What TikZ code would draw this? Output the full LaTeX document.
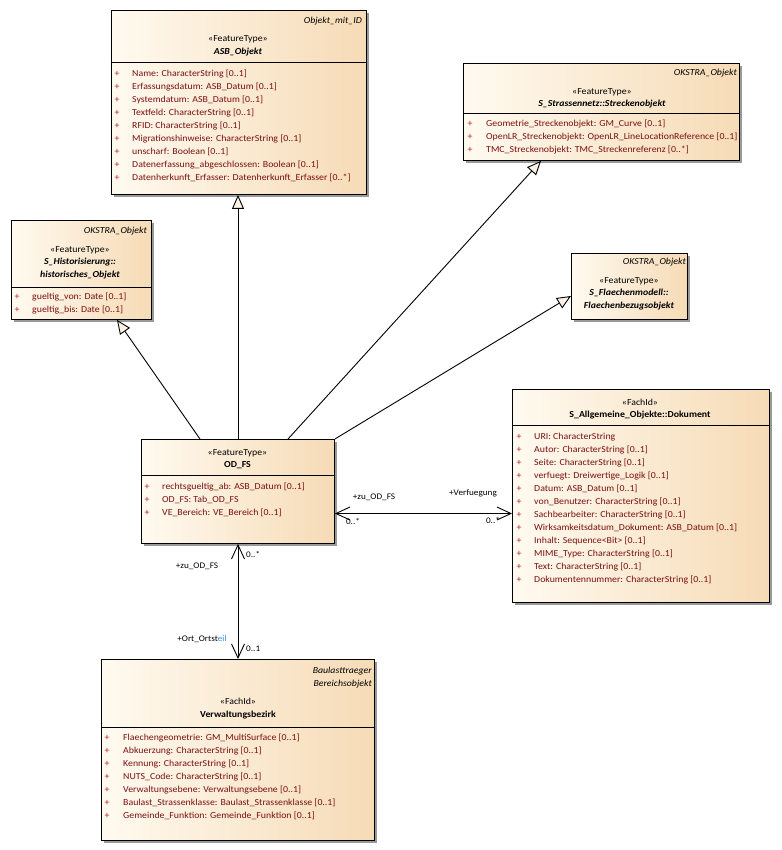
\documentclass[tikz,border=0pt]{standalone}
\usepackage{fontspec}
\setmainfont{Carlito}
\newfontfamily\wide[FakeStretch=1.07]{Carlito}
\usetikzlibrary{arrows.meta,shadows,calc}
\definecolor{creamL}{HTML}{FFFAF0}
\definecolor{creamR}{HTML}{F6DBB6}
\definecolor{attrred}{HTML}{7A1010}
\definecolor{plusred}{HTML}{B01818}
\definecolor{tipfill}{HTML}{FDF3E4}
\definecolor{bluetxt}{HTML}{3A8EE6}
\tikzset{
  umlbox/.style={draw=black, line width=0.9pt, left color=creamL, right color=creamR, anchor=north west, inner sep=0pt,
    drop shadow={shadow xshift=3pt, shadow yshift=-3pt, fill=black!40, opacity=1}},
  divider/.style={line width=0.9pt},
  txt/.style={font=\wide\fontsize{9.2}{10}\selectfont, inner sep=0pt, text=black},
  attr/.style={txt, anchor=mid west, text=attrred},
  plus/.style={txt, anchor=mid, text=plusred},
  ster/.style={txt, anchor=mid},
  cname/.style={txt, anchor=mid, font=\wide\fontsize{9.2}{10}\selectfont\bfseries},
  aname/.style={txt, anchor=mid, font=\wide\fontsize{9.2}{10}\selectfont\bfseries\itshape},
  parent/.style={txt, anchor=mid east, font=\wide\fontsize{9.2}{10}\selectfont\itshape},
  gen/.style={line width=0.9pt, -{Triangle[length=14pt,width=12pt,fill=tipfill]}},
  assoc/.style={line width=0.9pt, {Straight Barb[length=14pt,width=13pt]}-{Straight Barb[length=14pt,width=13pt]}},
  lbl/.style={txt, anchor=mid, font=\wide\fontsize{8.6}{10}\selectfont},
}
\newcommand{\attrlist}[5]{% name, plus x, text x, y0, list
  \foreach \t [count=\i] in {#5} {
    \node[plus] (#1p\i) at (#2, {#4+13*(\i-1)}) {+};
    \node[attr] (#1a\i) at (#3, {#4+13*(\i-1)}) {\t};
  }
}
\begin{document}
\begin{tikzpicture}[x=1pt,y=-1pt]
\useasboundingbox (0,0) rectangle (781,850);

% ---------- ASB_Objekt ----------
\node[umlbox, minimum width=255pt, minimum height=184pt] (asb) at (110.5,10) {};
\draw[divider] (110.5,62.5) -- (365.5,62.5);
\node[parent] (asbP) at (362,21) {Objekt\_mit\_ID};
\node[ster] (asbS) at (238,39.5) {«FeatureType»};
\node[aname] (asbN) at (238,52.3) {ASB\_Objekt};
\attrlist{asb}{117}{132}{74.3}{Name: CharacterString [0..1], Erfassungsdatum: ASB\_Datum [0..1], Systemdatum: ASB\_Datum [0..1], Textfeld: CharacterString [0..1], RFID: CharacterString [0..1], Migrationshinweise: CharacterString [0..1], unscharf: Boolean [0..1], Datenerfassung\_abgeschlossen: Boolean [0..1], Datenherkunft\_Erfasser: Datenherkunft\_Erfasser [0..*]}

% ---------- Streckenobjekt ----------
\node[umlbox, minimum width=276pt, minimum height=97pt] (str) at (463,63) {};
\draw[divider] (463,113) -- (739,113);
\node[parent] (strP) at (737,72.7) {OKSTRA\_Objekt};
\node[ster] (strS) at (602,92.5) {«FeatureType»};
\node[aname] (strN) at (602,104.3) {S\_Strassennetz::Streckenobjekt};
\attrlist{str}{470}{486}{124.5}{Geometrie\_Streckenobjekt: GM\_Curve [0..1], OpenLR\_Streckenobjekt: OpenLR\_LineLocationReference [0..1], TMC\_Streckenobjekt: TMC\_Streckenreferenz [0..*]}

% ---------- historisches_Objekt ----------
\node[umlbox, minimum width=140pt, minimum height=99pt] (hist) at (10.5,220) {};
\draw[divider] (10.5,287) -- (150.5,287);
\node[parent] (histP) at (147,230.7) {OKSTRA\_Objekt};
\node[ster] (histS) at (80,250) {«FeatureType»};
\node[aname] (histN1) at (80,262.3) {S\_Historisierung::};
\node[aname] (histN2) at (80,274.7) {historisches\_Objekt};
\attrlist{hist}{17}{32}{297.5}{gueltig\_von: Date [0..1], gueltig\_bis: Date [0..1]}

% ---------- Flaechenbezugsobjekt ----------
\node[umlbox, minimum width=116pt, minimum height=66pt] (fl) at (571,253) {};
\node[parent] (flP) at (686,262.3) {OKSTRA\_Objekt};
\node[ster] (flS) at (629,281.5) {«FeatureType»};
\node[aname] (flN1) at (629,293.3) {S\_Flaechenmodell::};
\node[aname] (flN2) at (629,305.7) {Flaechenbezugsobjekt};

% ---------- Dokument ----------
\node[umlbox, minimum width=257pt, minimum height=213pt] (dok) at (512,389) {};
\draw[divider] (512,425) -- (769,425);
\node[ster] (dokS) at (640,403) {«FachId»};
\node[cname] (dokN) at (640,414.7) {S\_Allgemeine\_Objekte::Dokument};
\attrlist{dok}{519}{534}{437.3}{URI: CharacterString, Autor: CharacterString [0..1], Seite: CharacterString [0..1], verfuegt: Dreiwertige\_Logik [0..1], Datum: ASB\_Datum [0..1], von\_Benutzer: CharacterString [0..1], Sachbearbeiter: CharacterString [0..1], Wirksamkeitsdatum\_Dokument: ASB\_Datum [0..1], Inhalt: Sequence<Bit> [0..1], MIME\_Type: CharacterString [0..1], Text: CharacterString [0..1], Dokumentennummer: CharacterString [0..1]}

% ---------- OD_FS ----------
\node[umlbox, minimum width=193pt, minimum height=104pt] (odfs) at (141,439) {};
\draw[divider] (141,475) -- (334,475);
\node[ster] (odS) at (237.5,453) {«FeatureType»};
\node[cname] (odN) at (237.5,465.3) {OD\_FS};
\attrlist{od}{147}{162}{487.3}{rechtsgueltig\_ab: ASB\_Datum [0..1], OD\_FS: Tab\_OD\_FS, VE\_Bereich: VE\_Bereich [0..1]}

% ---------- Verwaltungsbezirk ----------
\node[umlbox, minimum width=273pt, minimum height=181pt] (verw) at (101,659) {};
\draw[divider] (101,727) -- (374,727);
\node[parent] (vwP1) at (372,671.3) {Baulasttraeger};
\node[parent] (vwP2) at (372,683.7) {Bereichsobjekt};
\node[ster] (vwS) at (238,702.3) {«FachId»};
\node[cname] (vwN) at (238,715.3) {Verwaltungsbezirk};
\attrlist{vw}{107}{123}{738}{Flaechengeometrie: GM\_MultiSurface [0..1], Abkuerzung: CharacterString [0..1], Kennung: CharacterString [0..1], NUTS\_Code: CharacterString [0..1], Verwaltungsebene: Verwaltungsebene [0..1], Baulast\_Strassenklasse: Baulast\_Strassenklasse [0..1], Gemeinde\_Funktion: Gemeinde\_Funktion [0..1]}

% ---------- Generalizations ----------
\draw[gen] (odfs.north -| 238,0) -- (asb.south -| 238,0);
\draw[gen] (odfs.north -| 200,0) -- (hist.south -| 117,0);
\draw[gen] (odfs.north -| 288,0) -- (str.south -| 541,0);
\draw[gen] (odfs.north east) -- (fl.west |- 0,296);

% ---------- Associations ----------
\draw[assoc] (odfs.east |- 0,513.5) -- (dok.west |- 0,513.5);
\node[lbl] (l1) at (374,497) {+zu\_OD\_FS};
\node[lbl] (l2) at (353,522) {0..*};
\node[lbl] (l3) at (473,493) {+Verfuegung};
\node[lbl] (l4) at (493,521) {0..*};

\draw[assoc] (odfs.south -| 238,0) -- (verw.north -| 238,0);
\node[lbl] (l5) at (197,566) {+zu\_OD\_FS};
\node[lbl, anchor=mid west] (l6) at (246,555) {0..*};
\node[lbl] (l7) at (202,639) {+Ort\_Ortst\textcolor{bluetxt}{eil}};
\node[lbl, anchor=mid west] (l8) at (246,649) {0..1};
\end{tikzpicture}
\end{document}
